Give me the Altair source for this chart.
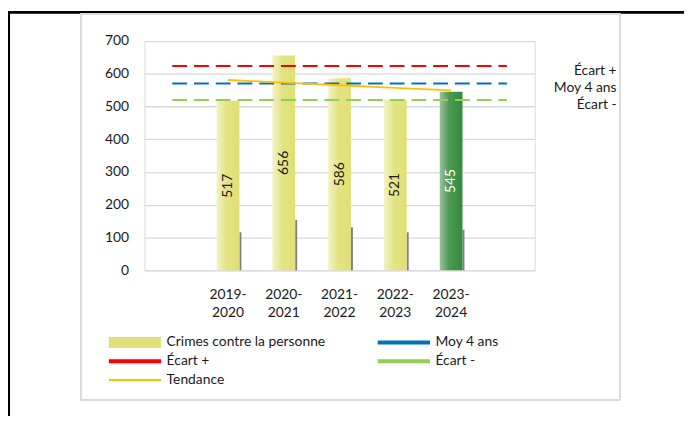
import altair as alt
import pandas as pd

# ---- data ----
periods = ["2019-2020", "2020-2021", "2021-2022", "2022-2023", "2023-2024"]
crimes = [517, 656, 586, 521, 545]
shadow = [116, 154, 131, 116, 124]
tendance = [581, 573, 565, 557, 549]
moy_4_ans = 570
ecart_plus = 624
ecart_moins = 520
x_domain = [" "] + periods + ["  "]
y_ticks = [0, 100, 200, 300, 400, 500, 600, 700]
legend_names = ["Crimes contre la personne", "Moy 4 ans", "Écart +", "Écart -", "Tendance"]
legend_colors = ["#E0E07A", "#0070C0", "#FF0000", "#92D050", "#FFC000"]
side_labels = ["Écart +", "Moy 4 ans", "Écart -"]
side_values = [ecart_plus, moy_4_ans, ecart_moins]

FONT = "Lato"
TXT = "#1a1a1a"

bars_df = pd.DataFrame({"periode": periods, "valeur": crimes, "ombre": shadow,
                        "courant": [False, False, False, False, True]})
trend_df = pd.DataFrame({"periode": periods, "valeur": tendance})
ref_df = pd.DataFrame({
    "periode": [x_domain[0], x_domain[-1]] * 3,
    "valeur": [ecart_plus, ecart_plus, moy_4_ans, moy_4_ans, ecart_moins, ecart_moins],
    "serie": ["Écart +", "Écart +", "Moy 4 ans", "Moy 4 ans", "Écart -", "Écart -"],
})
side_df = pd.DataFrame({"periode": [x_domain[-1]] * 3, "valeur": side_values, "label": side_labels})
# legend-only rows, placed outside the value domain and clipped away
legend_df = pd.DataFrame({"periode": [x_domain[0]] * 5, "valeur": [-100] * 5, "serie": legend_names})

x_enc = alt.X("periode:N", scale=alt.Scale(domain=x_domain, paddingInner=0.59, paddingOuter=0.295),
              sort=x_domain,
              axis=alt.Axis(title=None, labelAngle=0, ticks=False, domain=False,
                            labelExpr="length(trim(datum.value)) ? [slice(datum.value,0,5), slice(datum.value,5)] : ''",
                            labelFont=FONT, labelFontSize=14, labelColor=TXT, labelPadding=18,
                            labelLineHeight=18, labelBaseline="top"))
y_scale = alt.Scale(domain=[0, 700], nice=False)
y_axis = alt.Axis(title=None, values=y_ticks, labelOverlap=False, labelFlush=False,
                  ticks=False, domain=False, labelFont=FONT, labelFontSize=14,
                  labelColor=TXT, labelPadding=16, gridColor="#D9D9D9", gridWidth=1.3)


def yq(field):
    return alt.Y(field, scale=y_scale, axis=y_axis, title=None)


base = alt.Chart(bars_df)

yellow_grad = alt.LinearGradient(gradient="linear", x1=0, x2=1, y1=0, y2=0,
                                 stops=[alt.GradientStop(color="#F2F2C4", offset=0),
                                        alt.GradientStop(color="#E3E383", offset=0.45),
                                        alt.GradientStop(color="#E0E077", offset=1)])
green_grad = alt.LinearGradient(gradient="linear", x1=0, x2=1, y1=0, y2=0,
                                stops=[alt.GradientStop(color="#9CC39F", offset=0),
                                       alt.GradientStop(color="#4E9A55", offset=0.4),
                                       alt.GradientStop(color="#338A3C", offset=1)])

ref_lines = alt.Chart(ref_df).mark_line(strokeWidth=2, strokeDash=[15, 7]).encode(
    x=x_enc, y=yq("valeur:Q"), detail="serie:N",
    color=alt.Color("serie:N", scale=alt.Scale(domain=["Écart +", "Moy 4 ans", "Écart -"],
                                               range=["#FF0000", "#0070C0", "#92D050"]), legend=None),
)

shadow_layer = base.mark_bar(color="#7F7F7F", width=2, xOffset=12.5).encode(x=x_enc, y=yq("ombre:Q"))
yellow = base.transform_filter("!datum.courant").mark_bar(color=yellow_grad, width=23).encode(x=x_enc, y=yq("valeur:Q"))
green = base.transform_filter("datum.courant").mark_bar(color=green_grad, width=23).encode(x=x_enc, y=yq("valeur:Q"))

labels = base.transform_calculate(mid="datum.valeur / 2").mark_text(
    angle=270, font=FONT, fontSize=14, baseline="middle", align="center"
).encode(
    x=x_enc, y=yq("mid:Q"), text="valeur:Q",
    color=alt.condition("datum.courant", alt.value("#FFFFFF"), alt.value(TXT)),
)

trend = alt.Chart(trend_df).mark_line(color="#FFC000", strokeWidth=1.8).encode(
    x=x_enc, y=yq("valeur:Q"))

side = alt.Chart(side_df).mark_text(align="right", baseline="middle", dx=111, dy=5,
                                     font=FONT, fontSize=14, color=TXT).encode(
    x=x_enc, y=yq("valeur:Q"), text="label:N")

shapes = [
    "M-2.94,-0.61H2.94V0.61H-2.94Z",
    "M-2.94,-0.22H2.94V0.22H-2.94Z",
    "M-2.94,-0.22H2.94V0.22H-2.94Z",
    "M-2.94,-0.22H2.94V0.22H-2.94Z",
    "M-2.94,-0.11H2.94V0.11H-2.94Z",
]
legend_layer = alt.Chart(legend_df).mark_point(filled=True, clip=True, opacity=1).encode(
    x=x_enc, y=yq("valeur:Q"),
    color=alt.Color("serie:N", scale=alt.Scale(domain=legend_names, range=legend_colors),
                    legend=alt.Legend(title=None, orient="none", legendX=-18.5, legendY=296,
                                      direction="horizontal", columns=2, columnPadding=52, rowPadding=3,
                                      symbolSize=324, symbolOpacity=1, symbolStrokeWidth=0,
                                      labelOffset=23, labelFont=FONT, labelFontSize=14,
                                      labelColor=TXT, padding=0, labelLimit=400)),
    shape=alt.Shape("serie:N", scale=alt.Scale(domain=legend_names, range=shapes)),
)

frame_gray = alt.Chart(bars_df).mark_rect(fill=None, stroke="#D9D9D9", strokeWidth=1.3).encode(
    x=alt.value(-64.5), x2=alt.value(481), y=alt.value(-27.5), y2=alt.value(363))
frame_black = alt.Chart(bars_df).mark_rect(fill=None, stroke="#000000", strokeWidth=2).encode(
    x=alt.value(-137), x2=alt.value(700), y=alt.value(-29), y2=alt.value(500))

chart = alt.layer(
    frame_black, frame_gray, shadow_layer, yellow, green, ref_lines, trend, labels, side, legend_layer
).resolve_scale(color="independent", shape="independent").properties(
    width=395, height=232,
    autosize=alt.AutoSizeParams(type="none"),
    padding={"left": 138, "top": 31, "right": 151, "bottom": 145},
).configure_view(stroke=None).configure(background="white")

chart.save("out.html", embed_options={"renderer": "svg", "actions": False})
